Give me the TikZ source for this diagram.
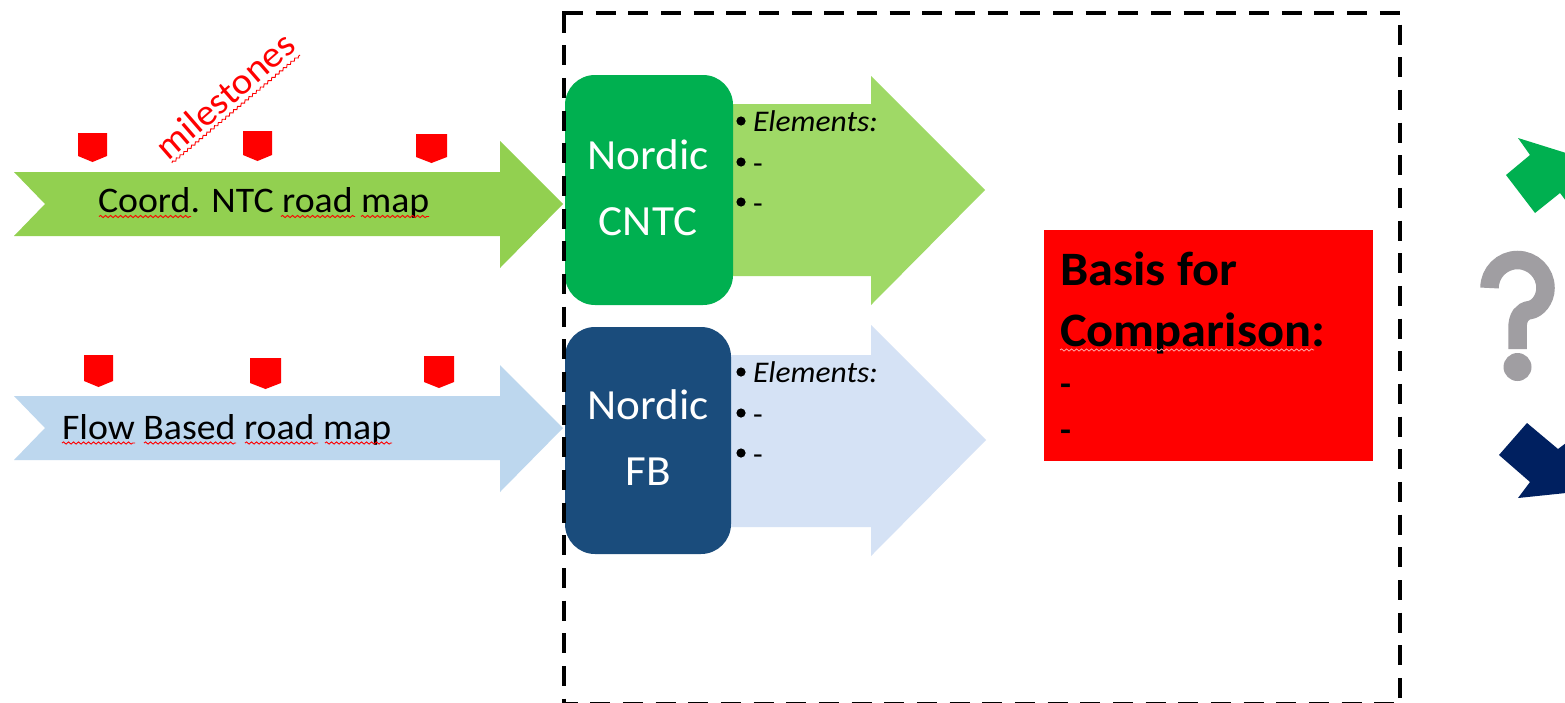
\documentclass[tikz,border=0pt]{standalone}
\usepackage{fontspec}
\setmainfont[FakeStretch=1.05]{Carlito}
\usetikzlibrary{decorations.pathmorphing}
\definecolor{gA}{HTML}{92D050}
\definecolor{gB}{HTML}{9FD966}
\definecolor{gC}{HTML}{00B050}
\definecolor{bA}{HTML}{BDD7EE}
\definecolor{bB}{HTML}{D5E2F5}
\definecolor{bC}{HTML}{1A4C7C}
\definecolor{navyA}{HTML}{002060}
\definecolor{greyQ}{HTML}{A09EA2}
\tikzset{
  rbox/.style={rounded corners=30pt,line width=0pt},
  mile/.style={fill=red,draw=none},
  lbl/.style={anchor=base west,inner sep=0pt,outer sep=0pt,text=black},
  road/.style={lbl,font=\fontsize{36}{36}\selectfont},
  boxcap/.style={anchor=base,inner sep=0pt,outer sep=0pt,text=white,font=\fontsize{43}{43}\selectfont},
  elem/.style={lbl,font=\fontsize{30}{30}\selectfont},
  basis/.style={lbl,font=\fontsize{48}{48}\selectfont\bfseries},
  basisdash/.style={lbl,font=\fontsize{34}{34}\selectfont\bfseries},
  squig/.style={draw=#1,line width=0.9pt,decorate,decoration={snake,amplitude=1.1pt,segment length=5pt}},
  frameline/.style={black,line width=4pt,dash pattern=on 20pt off 12.67pt},
}
\begin{document}
\begin{tikzpicture}[x=1pt,y=-1pt]
\useasboundingbox (0,0) rectangle (1565,702);
\clip (0,0) rectangle (1565,702);
\fill[white] (0,0) rectangle (1565,702);
% road map arrows
\fill[gA] (14,172)--(500,172)--(500,141)--(563,204)--(500,268)--(500,236)--(14,236)--(45,204)--cycle;
\fill[bA] (14,396)--(500,396)--(500,365)--(563,428)--(500,492)--(500,460)--(14,460)--(45,428)--cycle;
% milestones
\foreach \xa/\xb/\yt/\hb in {78/107/133/23,243/272/131/24,416/447/134/23,84/113/355/26,250/281/358/25,424/454/356/26}
  \fill[mile] (\xa,\yt)--(\xb,\yt)--(\xb,\yt+\hb)--({(\xa+\xb)/2},\yt+\hb+6)--(\xa,\yt+\hb)--cycle;
\node[road] (ntc) at (98,212) {Coord. NTC road map};
\node[road] (fb) at (62,439) {Flow Based road map};
\draw[squig=red] (99,216.5)--(191,216.5);
\draw[squig=red] (281,216.5)--(355,216.5);
\draw[squig=red] (361,216.5)--(429,216.5);
\draw[squig=red] (62,443)--(135,443);
\draw[squig=red] (144,443)--(236,443);
\draw[squig=red] (245,443)--(318,443);
\draw[squig=red] (325,443)--(392,443);
\node[anchor=base,inner sep=0pt,text=red,rotate=41,font=\fontsize{37}{37}\selectfont] (ms) at (233,105) {milestones};
\draw[squig=red] (172,163)--(300,55);
% large arrows
\fill[gB] (720,104)--(871,104)--(871,76)--(985,190)--(871,305)--(871,276)--(720,276)--cycle;
\fill[bB] (720,355)--(871,355)--(871,325)--(986,440)--(871,556)--(871,527)--(720,527)--cycle;
% rounded boxes
\fill[gC,rbox] (565,75) rectangle (733,305);
\fill[bC,rbox] (565,327) rectangle (731,554);
\node[boxcap] (n1) at (648,169) {Nordic};
\node[boxcap] (n2) at (648,235) {CNTC};
\node[boxcap] (n3) at (648,419) {Nordic};
\node[boxcap] (n4) at (648,485.5) {FB};
% bullets
\foreach \bx/\by in {741/121,741/162,741/202,741/372,741/413,741/453}
  \fill[black] (\bx,\by) circle (4.6);
\node[elem] (e1) at (753,131) {\itshape Elements:};
\node[elem] (e2) at (753,173) {-};
\node[elem] (e3) at (753,213) {-};
\node[elem] (e4) at (753,382) {\itshape Elements:};
\node[elem] (e5) at (753,424) {-};
\node[elem] (e6) at (753,464) {-};
% basis box
\fill[red] (1044,230) rectangle (1373,461);
\node[basis] (b1) at (1060,285) {Basis for};
\node[basis] (b2) at (1060,346) {Comparison:};
\node[basisdash] (b3) at (1060,395) {-};
\node[basisdash] (b4) at (1060,441) {-};
\draw[squig=red!30!white,line width=0.7pt] (1060,350)--(1314,350);
% right hand symbols
\fill[gC] (1518,138)--(1530,155)--(1506,175)--(1535,213)--(1560,193)--(1566,201)--(1566,153)--cycle;
\fill[navyA] (1527,423)--(1499,455)--(1530,482)--(1518,498)--(1566,493)--(1566,443)--(1558,449)--cycle;
\draw[greyQ,line width=18.5pt] (1489.5,288) arc[start angle=180,end angle=360,radius=28]
  .. controls (1545.5,300) and (1537,309) .. (1530,310)
  .. controls (1522,311) and (1517.5,317) .. (1517.5,328) -- (1517.5,349);
\fill[greyQ] (1517.5,367) circle (14);
% dashed frame
\draw[frameline] (564,12.6) -- (564,703);
\draw[frameline] (563,13) -- (1400,13);
\draw[frameline] (1400,24.6) -- (1400,703);
\draw[frameline,dash phase=6.4pt] (564,703.8) -- (1400,703.8);
\fill[black] (562,11) rectangle (566,15);
\end{tikzpicture}
\end{document}
